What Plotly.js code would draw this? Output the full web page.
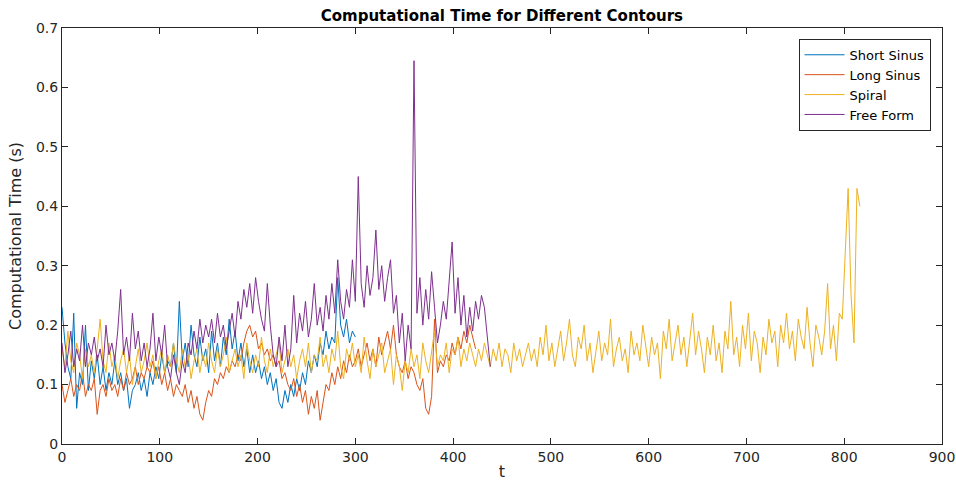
<!DOCTYPE html>
<html>
<head>
<meta charset="utf-8">
<script src="https://cdn.plot.ly/plotly-3.0.1.min.js"></script>
<style>html,body{margin:0;padding:0;background:#fff;}#chart{width:956px;height:488px;}</style>
</head>
<body>
<div id="chart"></div>
<script>
// Sample spacing along t (samples read every 3 units of t)
const tStep = 3;

const seriesNames = ["Short Sinus", "Long Sinus", "Spiral", "Free Form"];
const seriesColors = ["#0072BD", "#D95319", "#EDB120", "#7E2F8E"];

const shortSinus = [
  0.23, 0.17, 0.13, 0.11, 0.22, 0.06, 0.12, 0.10, 0.20, 0.09,
  0.14, 0.11, 0.15, 0.10, 0.13, 0.09, 0.12, 0.10, 0.14, 0.10,
  0.12, 0.09, 0.11, 0.06, 0.09, 0.10, 0.12, 0.09, 0.11, 0.08,
  0.12, 0.10, 0.13, 0.11, 0.15, 0.12, 0.14, 0.13, 0.17, 0.12,
  0.24, 0.14, 0.17, 0.13, 0.20, 0.15, 0.13, 0.18, 0.14, 0.16,
  0.12, 0.19, 0.14, 0.17, 0.13, 0.18, 0.15, 0.21, 0.16, 0.19,
  0.14, 0.17, 0.13, 0.16, 0.12, 0.15, 0.12, 0.14, 0.11, 0.13,
  0.10, 0.12, 0.09, 0.11, 0.07, 0.06, 0.09, 0.07, 0.10, 0.08,
  0.11, 0.09, 0.12, 0.10, 0.14, 0.12, 0.15, 0.13, 0.17, 0.15,
  0.19, 0.16, 0.18, 0.17, 0.28, 0.20, 0.18, 0.21, 0.17, 0.19,
  0.18
];

const longSinus = [
  0.10, 0.07, 0.09, 0.11, 0.08, 0.10, 0.09, 0.12, 0.08, 0.10,
  0.09, 0.11, 0.05, 0.09, 0.10, 0.08, 0.11, 0.09, 0.10, 0.08,
  0.11, 0.09, 0.12, 0.10, 0.11, 0.13, 0.10, 0.12, 0.11, 0.13,
  0.12, 0.14, 0.11, 0.13, 0.10, 0.12, 0.09, 0.11, 0.08, 0.10,
  0.09, 0.08, 0.10, 0.07, 0.09, 0.06, 0.08, 0.05, 0.04, 0.07,
  0.09, 0.08, 0.11, 0.10, 0.12, 0.11, 0.13, 0.12, 0.14, 0.13,
  0.15, 0.14, 0.17, 0.19, 0.20, 0.18, 0.19, 0.16, 0.17, 0.15,
  0.16, 0.14, 0.15, 0.13, 0.14, 0.11, 0.12, 0.10, 0.09, 0.11,
  0.08, 0.10, 0.07, 0.09, 0.05, 0.08, 0.06, 0.09, 0.04, 0.07,
  0.10, 0.09, 0.12, 0.10, 0.13, 0.11, 0.14, 0.12, 0.15, 0.13,
  0.14, 0.16, 0.13, 0.15, 0.17, 0.14, 0.16, 0.13, 0.18, 0.15,
  0.17, 0.19, 0.16, 0.20, 0.15, 0.13, 0.12, 0.14, 0.11, 0.13,
  0.12, 0.10, 0.09, 0.11, 0.06, 0.05, 0.08, 0.21, 0.12, 0.14,
  0.13, 0.15, 0.14, 0.17, 0.15, 0.18, 0.16, 0.19, 0.17, 0.20,
  0.18, 0.16
];

const spiral = [
  0.16, 0.13, 0.19, 0.14, 0.12, 0.17, 0.15, 0.11, 0.16, 0.13,
  0.15, 0.12, 0.16, 0.21, 0.14, 0.12, 0.17, 0.13, 0.15, 0.11,
  0.14, 0.16, 0.12, 0.15, 0.10, 0.13, 0.16, 0.12, 0.14, 0.17,
  0.13, 0.15, 0.11, 0.14, 0.16, 0.12, 0.15, 0.13, 0.17, 0.14,
  0.12, 0.16, 0.13, 0.15, 0.11, 0.14, 0.16, 0.12, 0.15, 0.13,
  0.17, 0.14, 0.12, 0.16, 0.13, 0.15, 0.18, 0.12, 0.14, 0.16,
  0.13, 0.15, 0.11, 0.17, 0.14, 0.12, 0.15, 0.13, 0.18, 0.14,
  0.12, 0.16, 0.13, 0.15, 0.17, 0.12, 0.14, 0.16, 0.13, 0.15,
  0.11, 0.14, 0.16, 0.13, 0.17, 0.12, 0.15, 0.14, 0.18, 0.13,
  0.15, 0.12, 0.16, 0.14, 0.19, 0.13, 0.11, 0.16, 0.14, 0.17,
  0.13, 0.15, 0.12, 0.18, 0.14, 0.11, 0.16, 0.13, 0.15, 0.17,
  0.12, 0.14, 0.16, 0.10, 0.15, 0.13, 0.09, 0.14, 0.12, 0.16,
  0.13, 0.15, 0.11, 0.17, 0.14, 0.12, 0.16, 0.19, 0.13, 0.15,
  0.14, 0.17, 0.12, 0.16, 0.15, 0.18, 0.13, 0.16, 0.14, 0.17,
  0.15, 0.13, 0.16, 0.14, 0.17, 0.15, 0.13, 0.16, 0.14, 0.17,
  0.13, 0.16, 0.15, 0.12, 0.17, 0.14, 0.16, 0.13, 0.15, 0.17,
  0.14, 0.16, 0.13, 0.18, 0.15, 0.20, 0.14, 0.17, 0.13, 0.16,
  0.19, 0.14, 0.17, 0.21, 0.15, 0.13, 0.18, 0.16, 0.20, 0.14,
  0.17, 0.12, 0.16, 0.19, 0.14, 0.17, 0.15, 0.21, 0.13, 0.16,
  0.18, 0.14, 0.16, 0.12, 0.19, 0.15, 0.17, 0.14, 0.20, 0.16,
  0.13, 0.18, 0.15, 0.17, 0.11, 0.19, 0.16, 0.21, 0.14, 0.17,
  0.20, 0.15, 0.18, 0.13, 0.17, 0.22, 0.15, 0.19, 0.16, 0.12,
  0.18, 0.15, 0.20, 0.14, 0.17, 0.12, 0.19, 0.16, 0.24, 0.15,
  0.18, 0.13, 0.20, 0.16, 0.22, 0.14, 0.19, 0.17, 0.12, 0.18,
  0.15, 0.21, 0.17, 0.19, 0.13, 0.20, 0.17, 0.22, 0.16, 0.19,
  0.14, 0.21, 0.18, 0.16, 0.23, 0.17, 0.13, 0.20, 0.18, 0.15,
  0.19, 0.27, 0.16, 0.20, 0.14, 0.22, 0.21, 0.33, 0.43, 0.25,
  0.17, 0.43, 0.40
];

const freeForm = [
  0.17, 0.12, 0.15, 0.19, 0.13, 0.16, 0.14, 0.20, 0.13, 0.17,
  0.15, 0.18, 0.14, 0.16, 0.13, 0.20, 0.15, 0.17, 0.14, 0.19,
  0.26, 0.15, 0.18, 0.14, 0.22, 0.16, 0.19, 0.14, 0.17, 0.13,
  0.16, 0.22, 0.14, 0.18, 0.15, 0.20, 0.13, 0.11, 0.15, 0.12,
  0.10, 0.14, 0.12, 0.17, 0.15, 0.19, 0.16, 0.21, 0.17, 0.20,
  0.18, 0.21, 0.17, 0.22, 0.18, 0.20, 0.16, 0.19, 0.22, 0.18,
  0.24, 0.21, 0.26, 0.23, 0.27, 0.22, 0.28, 0.24, 0.21, 0.19,
  0.27, 0.20, 0.15, 0.13, 0.18, 0.14, 0.20, 0.13, 0.16, 0.25,
  0.17, 0.22, 0.19, 0.24, 0.18, 0.21, 0.27, 0.20, 0.23, 0.19,
  0.25, 0.21, 0.27, 0.22, 0.31, 0.24, 0.21, 0.26, 0.23, 0.31,
  0.24, 0.45, 0.27, 0.23, 0.30, 0.25, 0.28, 0.36, 0.26, 0.30,
  0.24, 0.28, 0.31, 0.22, 0.25, 0.17, 0.22, 0.14, 0.20, 0.16,
  0.645, 0.22, 0.28, 0.20, 0.26, 0.21, 0.29, 0.23, 0.17, 0.20,
  0.24, 0.21, 0.27, 0.34, 0.22, 0.28, 0.20, 0.25, 0.18, 0.23,
  0.19, 0.24, 0.21, 0.25, 0.23, 0.18, 0.13
];

const allSeries = [shortSinus, longSinus, spiral, freeForm];

const traces = allSeries.map((vals, k) => ({
  type: "scatter",
  mode: "lines",
  name: seriesNames[k],
  x: vals.map((_, i) => i * tStep),
  y: vals,
  line: { color: seriesColors[k], width: 1 }
}));

const axisColor = "#262626";
const fontFam = "DejaVu Sans, sans-serif";

const layout = {
  width: 956,
  height: 488,
  margin: { l: 62, r: 14, t: 28, b: 44 },
  paper_bgcolor: "#ffffff",
  plot_bgcolor: "#ffffff",
  font: { family: fontFam, size: 14, color: axisColor },
  title: {
    text: "<b>Computational Time for Different Contours</b>",
    font: { family: fontFam, size: 15, color: "#000000" },
    x: 0.525, xanchor: "center", y: 0.967, yanchor: "middle"
  },
  xaxis: {
    range: [0, 900], dtick: 100, tick0: 0,
    showgrid: false, zeroline: false,
    showline: true, linecolor: axisColor, linewidth: 1, mirror: "ticks",
    ticks: "inside", ticklen: 6, tickcolor: axisColor,
    tickfont: { family: fontFam, size: 14, color: axisColor },
    title: { text: "t", font: { family: fontFam, size: 16, color: axisColor }, standoff: 2 }
  },
  yaxis: {
    range: [0, 0.7], dtick: 0.1, tick0: 0,
    showgrid: false, zeroline: false,
    showline: true, linecolor: axisColor, linewidth: 1, mirror: "ticks",
    ticks: "inside", ticklen: 6, tickcolor: axisColor,
    tickfont: { family: fontFam, size: 14, color: axisColor },
    title: { text: "Computational Time (s)", font: { family: fontFam, size: 16, color: axisColor }, standoff: 10 }
  },
  showlegend: true,
  legend: {
    x: 0.987, xanchor: "right", y: 0.974, yanchor: "top",
    bgcolor: "#ffffff", bordercolor: axisColor, borderwidth: 1,
    font: { family: fontFam, size: 13, color: "#000000" },
    tracegroupgap: 0, itemwidth: 40
  }
};

Plotly.newPlot("chart", traces, layout, { displayModeBar: false, staticPlot: true });
</script>
</body>
</html>
